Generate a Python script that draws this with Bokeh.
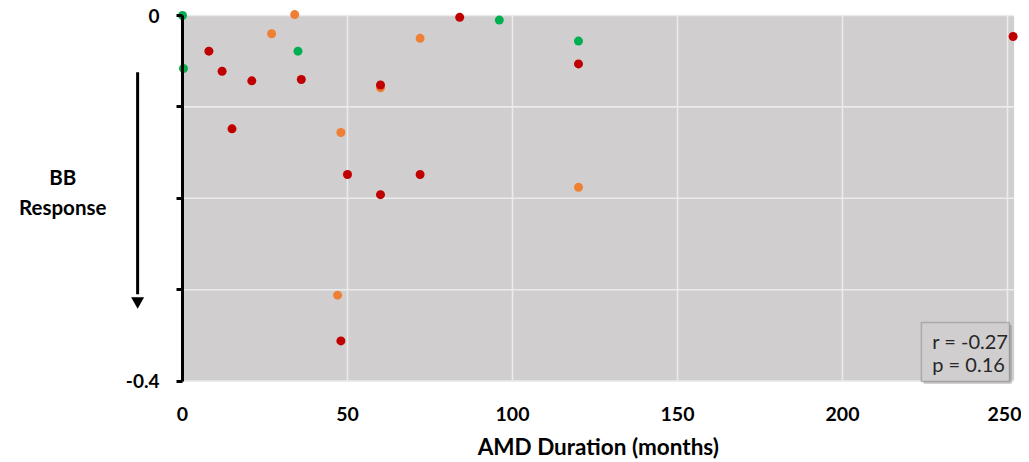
from bokeh.plotting import figure
from bokeh.models import BoxAnnotation, Label, FixedTicker, Range1d
from bokeh.embed import file_html
from bokeh.resources import INLINE

# ---- data (months, BB response) ----
green_x = [0, 0.3, 35, 96, 120]
green_y = [0.0, -0.058, -0.039, -0.005, -0.028]

orange_x = [27, 34, 72, 60, 48, 120, 47]
orange_y = [-0.020, 0.001, -0.025, -0.079, -0.128, -0.188, -0.306]

red_x = [8, 12, 21, 36, 15, 84, 120, 60, 50, 72, 60, 48, 251.7]
red_y = [-0.039, -0.061, -0.0715, -0.070, -0.124, -0.002, -0.053, -0.076,
         -0.174, -0.174, -0.196, -0.356, -0.023]

x_ticks = [0, 50, 100, 150, 200, 250]
y_label_ticks = [0, -0.4]
y_tick_text = {0: "0", -0.4: "-0.4"}
y_minor_ticks = [-0.1, -0.2, -0.3]
x_max = 252
y_min = -0.4
x_title = "AMD Duration (months)"
y_title = ["BB", "Response"]
stats_text = ["r = -0.27", "p = 0.16"]

FONT = "Lato"
BG = "#d0cece"
GRID = "#ebebeb"

W, H = 1021, 460
X0_PX, PX_X = 182, 3.3      # x=0 position, px per month
Y0_PX, PX_Y = 15, 914       # y=0 position, px per unit

p = figure(width=W, height=H, output_backend="svg", toolbar_location=None,
           title=None,
           x_range=Range1d(-X0_PX / PX_X, (W - X0_PX) / PX_X),
           y_range=Range1d(-(H - Y0_PX) / PX_Y, Y0_PX / PX_Y),
           min_border=0, min_border_left=0, min_border_right=0,
           min_border_top=0, min_border_bottom=0)
p.outline_line_color = None
p.background_fill_color = "white"
p.border_fill_color = "white"
p.xgrid.visible = False
p.ygrid.visible = False

# plot area background
p.add_layout(BoxAnnotation(left=0, right=x_max, bottom=y_min, top=0,
                           fill_color=BG, fill_alpha=1, line_color=None,
                           level="underlay"))

# grid lines
vx = [t for t in x_ticks if t > 0]
hy = y_label_ticks + y_minor_ticks
p.segment(x0=vx, x1=vx, y0=[y_min] * len(vx), y1=[0] * len(vx),
          line_color=GRID, line_width=1.6)
p.segment(x0=[0] * len(hy), x1=[x_max] * len(hy), y0=hy, y1=hy,
          line_color=GRID, line_width=1.6)

# x axis (at y = -0.4)
xa = p.xaxis[0]
xa.fixed_location = y_min
xa.ticker = FixedTicker(ticks=x_ticks)
xa.axis_line_color = None
xa.major_tick_line_color = None
xa.minor_tick_line_color = None
xa.major_label_standoff = 20
xa.major_label_text_font = FONT
xa.major_label_text_font_style = "bold"
xa.major_label_text_font_size = "19.5px"
xa.major_label_text_color = "black"

# y axis at x = 0
ya = p.yaxis[0]
ya.fixed_location = 0
ya.bounds = (y_min, 0)
ya.ticker = FixedTicker(ticks=y_label_ticks, minor_ticks=y_minor_ticks)
ya.major_label_overrides = y_tick_text
ya.axis_line_width = 3
ya.axis_line_color = "black"
ya.major_tick_line_width = 3
ya.major_tick_line_color = "black"
ya.major_tick_out = 6
ya.major_tick_in = 0
ya.minor_tick_line_width = 3
ya.minor_tick_line_color = "black"
ya.minor_tick_out = 6
ya.minor_tick_in = 0
ya.major_label_standoff = 17
ya.major_label_text_font = FONT
ya.major_label_text_font_style = "bold"
ya.major_label_text_font_size = "19px"
ya.major_label_text_color = "black"

# points
p.scatter(orange_x, orange_y, size=9, color="#ef7f35", line_color=None)
p.scatter(red_x, red_y, size=9, color="#c00000", line_color=None)
p.scatter(green_x, green_y, size=9, color="#00b050", line_color=None)

# x axis title
p.add_layout(Label(x=x_max / 2, y=-0.4715, text=x_title, text_align="center",
                   text_baseline="middle", text_font=FONT,
                   text_font_style="bold", text_font_size="22.5px",
                   text_color="black"))

# y axis title with downward arrow
for txt, yy in zip(y_title, [-0.177, -0.210]):
    p.add_layout(Label(x=-36.3, y=yy, text=txt, text_align="center",
                       text_baseline="middle", text_font=FONT,
                       text_font_style="bold", text_font_size="20.5px",
                       text_color="black"))
p.segment(x0=[-13.6], x1=[-13.6], y0=[-0.062], y1=[-0.305],
          line_color="black", line_width=3)
p.scatter([-13.6], [-0.3125], marker="inverted_triangle", size=13,
          color="black", line_color=None)

# stats box
p.add_layout(BoxAnnotation(left=224.6, right=251.3, bottom=-0.4028, top=-0.3385,
                           fill_color="#7f7f7f", fill_alpha=0.45, line_color=None))
p.add_layout(BoxAnnotation(left=223.9, right=250.6, bottom=-0.4005, top=-0.336,
                           fill_color=BG, fill_alpha=1, line_color="#555555",
                           line_width=1.5))
for txt, yy in zip(stats_text, [-0.3565, -0.3815]):
    p.add_layout(Label(x=227.2, y=yy, text=txt, text_align="left",
                       text_baseline="middle", text_font=FONT,
                       text_font_size="20px", text_color="#262626"))

open("out.html", "w").write(file_html(p, INLINE))
